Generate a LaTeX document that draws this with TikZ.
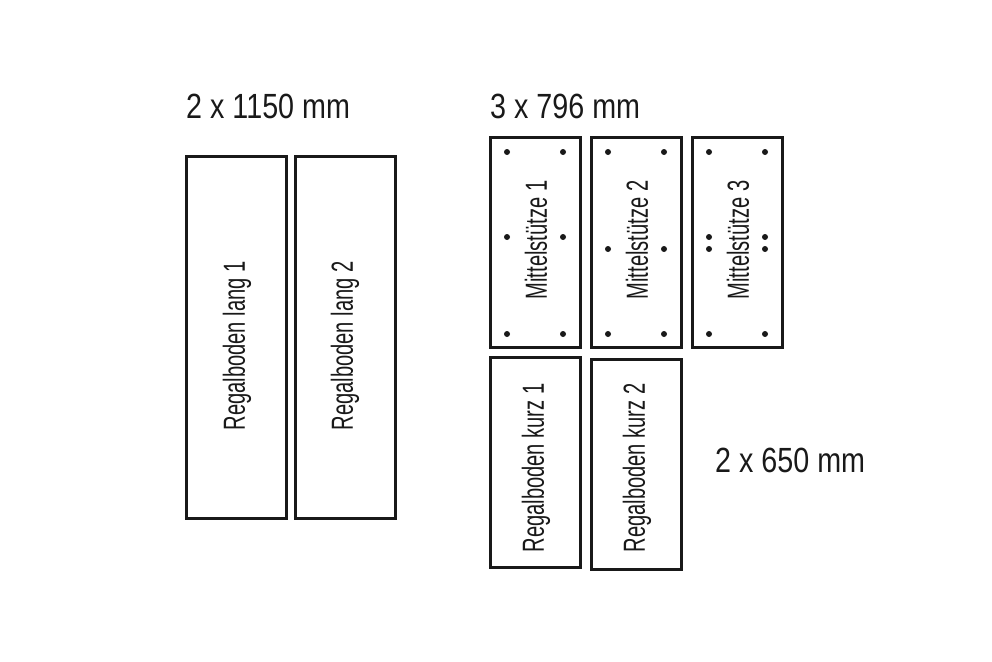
\documentclass[tikz,border=0pt]{standalone}
\usepackage{fontspec}
\setmainfont{Liberation Sans}
\newfontfamily\titlefnt[FakeStretch=0.82]{Liberation Sans}
\newfontfamily\boardfnt[FakeStretch=0.66]{Liberation Sans}
\begin{document}
\begin{tikzpicture}[x=1pt,y=-1pt,
  board/.style={draw=black!90,line width=3pt,fill=white},
  boardlabel/.style={rotate=90,font=\boardfnt\fontsize{30.5}{34}\selectfont,inner sep=0pt,text=black!90},
  title/.style={anchor=base west,font=\titlefnt\fontsize{35}{40}\selectfont,inner sep=0pt,text=black!90},
  hole/.style={fill=black!90,draw=none}]
\useasboundingbox (0,0) rectangle (992,661);
% titles
\node[title] (t1) at (186,118) {2 x 1150 mm};
\node[title] (t2) at (490,118) {3 x 796 mm};
\node[title] (t3) at (715,472) {2 x 650 mm};
% long boards
\draw[board] (186,156) rectangle (286,518);
\node[boardlabel] (l1) at (237,346) {Regalboden lang 1};
\draw[board] (295,156) rectangle (395,518);
\node[boardlabel] (l2) at (345,346) {Regalboden lang 2};
% Mittelstuetzen
\draw[board] (490,137) rectangle (580,347);
\node[boardlabel] (m1) at (536,240) {Mittelstütze 1};
\draw[board] (591,137) rectangle (681,347);
\node[boardlabel] (m2) at (637,240) {Mittelstütze 2};
\draw[board] (692,137) rectangle (782,347);
\node[boardlabel] (m3) at (738,240) {Mittelstütze 3};
% holes
\foreach \x/\y in {507/152,563/152,507/237,563/237,507/334,563/334,
                   608/152,664/152,608/249,664/249,608/334,664/334,
                   709/152,765/152,709/237,765/237,709/249,765/249,709/334,765/334}
  \fill[hole] (\x,\y) circle (3);
% short boards
\draw[board] (490,357) rectangle (580,567);
\node[boardlabel] (k1) at (536,468) {Regalboden kurz 1};
\draw[board] (591,359) rectangle (681,569);
\node[boardlabel] (k2) at (637,468) {Regalboden kurz 2};
\end{tikzpicture}
\end{document}
